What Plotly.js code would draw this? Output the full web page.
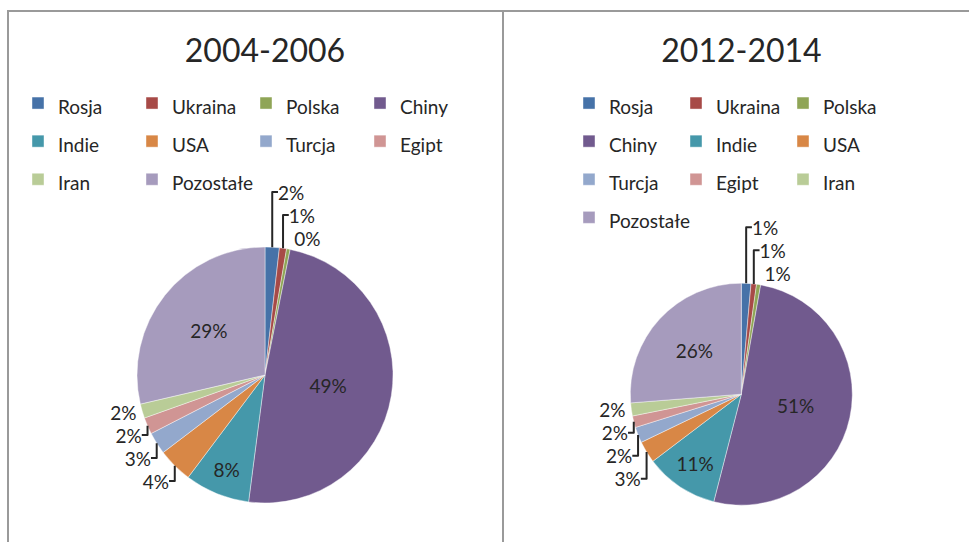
<!DOCTYPE html>
<html><head><meta charset="utf-8">
<script src="https://cdn.plot.ly/plotly-3.0.1.min.js"></script>
<style>
body{margin:0;background:#fff;width:969px;height:542px;overflow:hidden;position:relative}
.ln{position:absolute;background:#9a9a9a}
#c1{position:absolute;left:0;top:0;width:505px;height:542px}
#c2{position:absolute;left:505px;top:0;width:464px;height:542px}
</style></head>
<body>
<div class="ln" style="left:7px;top:10px;width:962px;height:2px"></div>
<div class="ln" style="left:7px;top:10px;width:2px;height:532px"></div>
<div class="ln" style="left:502px;top:10px;width:2px;height:532px"></div>
<div id="c1"></div>
<div id="c2"></div>
<script>
const categories = ['Rosja','Ukraina','Polska','Chiny','Indie','USA','Turcja','Egipt','Iran','Pozostałe'];
const values2004 = [1.8, 0.9, 0.45, 48.9, 8.2, 4.4, 2.8, 2.1, 1.8, 28.65];
const values2012 = [1.4, 0.8, 0.6, 51.3, 10.7, 3.2, 2.3, 1.7, 1.9, 26.3];
const titles = ['2004-2006', '2012-2014'];
const colors = ['#4672A8','#A74A47','#8FA556','#715A8E','#4598AA','#D88746','#93A8CC','#D09594','#B9CC97','#A69BBD'];

const FONT = 'Lato, "Open Sans", sans-serif';
const TXT = '#262626';
const legendLabels = categories.map(c => '<span style="font-size:19px">' + c + '</span>');

function makePie(divId, values, title, cfg) {
  const trace = {
    type: 'pie',
    labels: legendLabels,
    values: values,
    sort: false,
    direction: 'clockwise',
    rotation: 0,
    marker: {colors: colors, line: {color: 'rgba(255,255,255,0.7)', width: 0.6}},
    texttemplate: '%{percent:.0%}',
    textposition: cfg.textpos,
    insidetextorientation: 'horizontal',
    textfont: {family: FONT, size: 19, color: TXT},
    outsidetextfont: {family: FONT, size: 19, color: TXT},
    insidetextfont: {family: FONT, size: 19, color: TXT},
    domain: cfg.domain,
    automargin: false,
    hoverinfo: 'label+percent'
  };
  const layout = {
    width: cfg.width, height: 542,
    margin: Object.assign({autoexpand: false}, cfg.margin),
    paper_bgcolor: 'rgba(0,0,0,0)',
    plot_bgcolor: 'rgba(0,0,0,0)',
    font: {family: FONT, color: TXT},
    title: {text: title, font: {family: FONT, size: 32, color: TXT},
            x: cfg.titleX, xref: 'container', xanchor: 'center',
            y: 1 - 62/542, yref: 'container', yanchor: 'bottom'},
    showlegend: true,
    legend: {orientation: 'h', xref: 'container', yref: 'container',
             x: cfg.legX, xanchor: 'left', y: cfg.legY, yanchor: 'top',
             entrywidth: cfg.entry, entrywidthmode: 'pixels',
             font: {family: FONT, size: 27, color: TXT}, traceorder: 'normal',
             bgcolor: 'rgba(0,0,0,0)'}
  };
  Plotly.newPlot(divId, [trace], layout, {displayModeBar: false, staticPlot: true});
}

makePie('c1', values2004, titles[0], {
  width: 505, margin: {l: 20, r: 20, t: 0, b: 0},
  domain: {x: [117/465, 373/465], y: [39/542, 295/542]},
  textpos: ['outside','outside','outside','inside','inside','outside','outside','outside','outside','inside'],
  titleX: 265/505, legX: 18/505, legY: 1 - 79/542, entry: 69
});
makePie('c2', values2012, titles[1], {
  width: 464, margin: {l: 40, r: 40, t: 0, b: 0},
  domain: {x: [85.3/384, 307.3/384], y: [36.8/542, 258.8/542]},
  textpos: ['outside','outside','outside','inside','inside','outside','outside','outside','outside','inside'],
  titleX: 236.5/464, legX: 64/464, legY: 1 - 79/542, entry: 62
});
</script>
</body></html>
